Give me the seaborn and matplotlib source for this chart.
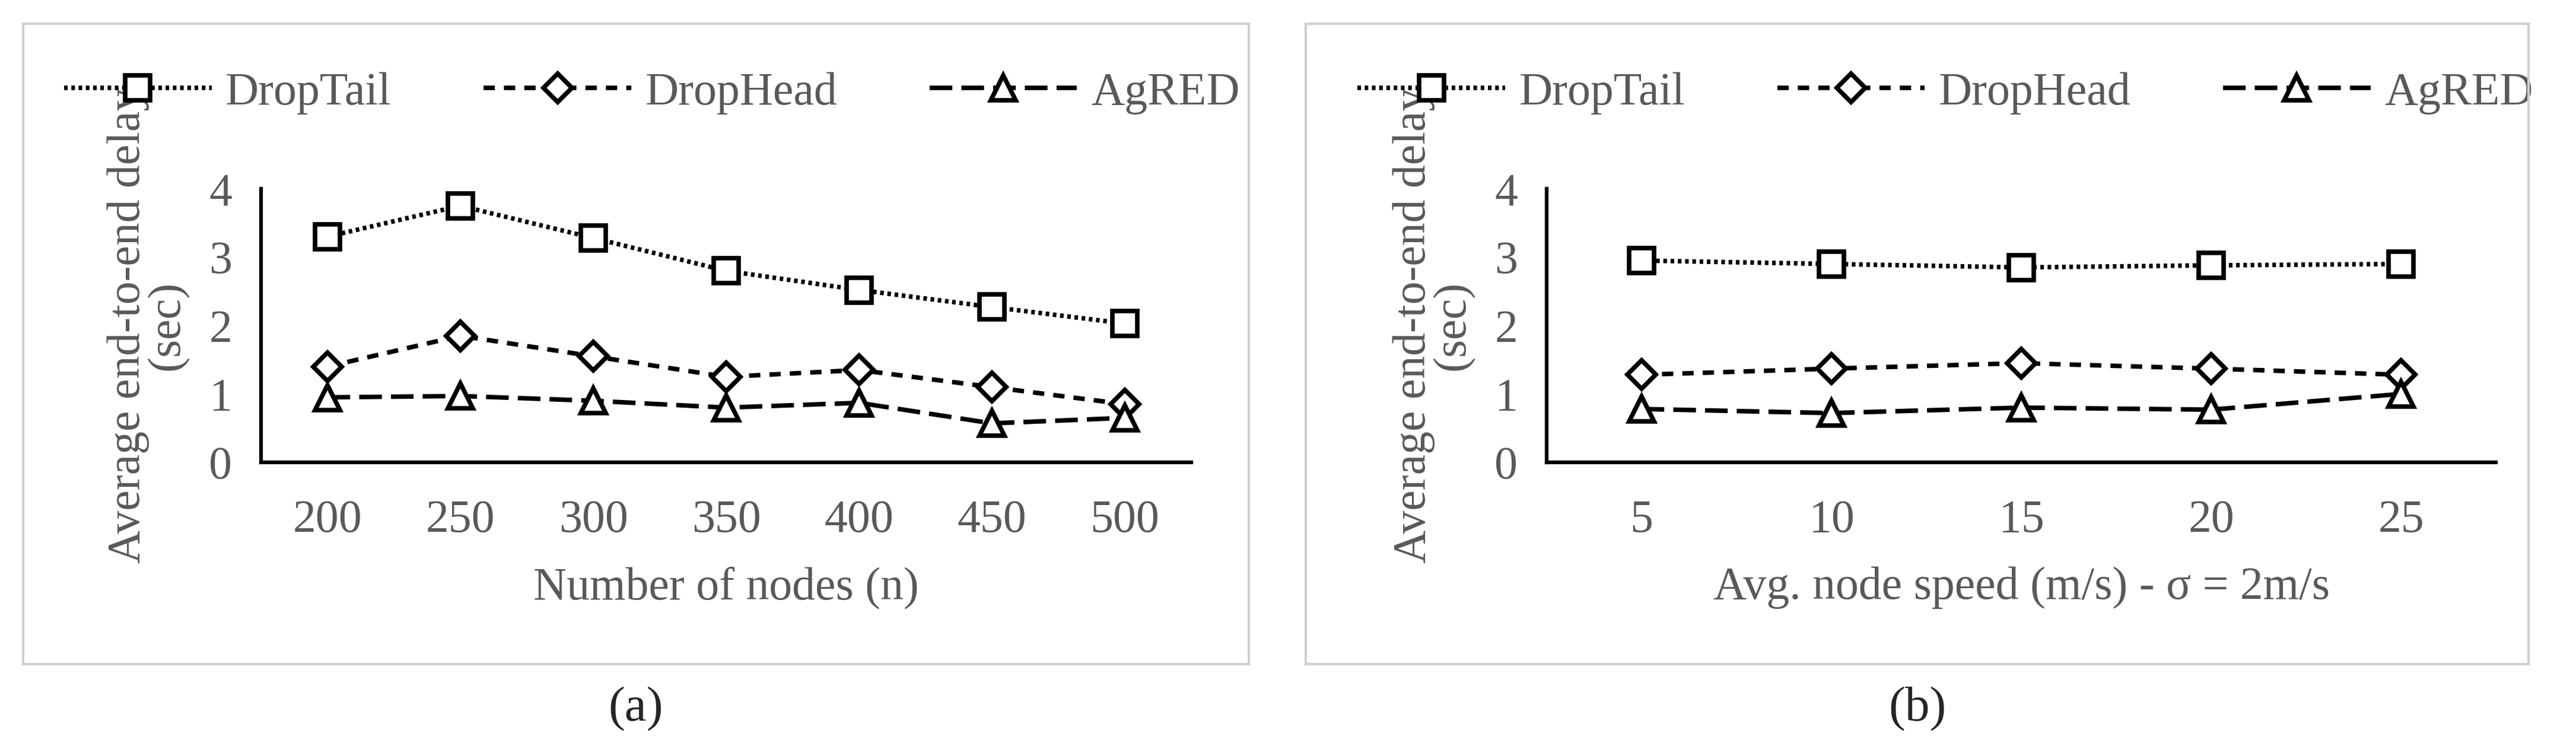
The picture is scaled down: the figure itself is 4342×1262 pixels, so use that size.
import matplotlib
matplotlib.use('Agg')
import matplotlib.pyplot as plt
from matplotlib.patches import Rectangle
import seaborn as sns
import pandas as pd

nodes = [200, 250, 300, 350, 400, 450, 500]
a_droptail = [3.30, 3.75, 3.28, 2.80, 2.52, 2.27, 2.03]
a_drophead = [1.40, 1.85, 1.55, 1.25, 1.35, 1.10, 0.85]
a_agred = [0.95, 0.97, 0.90, 0.80, 0.87, 0.57, 0.65]

speeds = [5, 10, 15, 20, 25]
b_droptail = [2.95, 2.90, 2.85, 2.88, 2.90]
b_drophead = [1.28, 1.37, 1.45, 1.37, 1.28]
b_agred = [0.78, 0.72, 0.80, 0.77, 1.00]

sns.set_style('white')
plt.rcParams['font.family'] = ['Liberation Serif', 'DejaVu Serif']
GREY = '#595959'

series_styles = [
    ('DropTail', 's', (0, (0.8, 0.8))),
    ('DropHead', 'D', (0, (2.5, 2))),
    ('AgRED', '^', (0, (5, 2))),
]

fig = plt.figure(figsize=(43.42, 12.62), dpi=100)
W, H = 4342, 1262


def panel(ax, xs, ys_list, xlabel):
    pos = list(range(len(xs)))
    for (name, marker, ls), ys in zip(series_styles, ys_list):
        df = pd.DataFrame({'x': pos, 'y': ys})
        ms = 24 if marker == 'D' else 30
        sns.lineplot(data=df, x='x', y='y', ax=ax, color='black', marker=marker,
                     markersize=ms, markerfacecolor='white', markeredgecolor='black',
                     markeredgewidth=5.5, linewidth=5.5, linestyle=ls, label=name)
    ax.set_xlim(-0.5, len(xs) - 0.5)
    ax.set_ylim(0, 4)
    ax.set_yticks([0, 1, 2, 3, 4])
    ax.set_xticks(pos)
    ax.set_xticklabels([str(v) for v in xs])
    for s in ['top', 'right']:
        ax.spines[s].set_visible(False)
    for s in ['left', 'bottom']:
        ax.spines[s].set_linewidth(4.5)
        ax.spines[s].set_color('black')
    ax.tick_params(axis='both', length=0, labelsize=56, labelcolor=GREY)
    ax.tick_params(axis='x', pad=45)
    ax.tick_params(axis='y', pad=35)
    ax.set_xlabel(xlabel, fontsize=56, color=GREY, labelpad=30)
    ax.set_ylabel('Average end-to-end delay\n(sec)', fontsize=56, color=GREY,
                  labelpad=25, linespacing=0.9)
    ax.legend(loc='lower center', bbox_to_anchor=(0.42, 1.12), ncol=3, frameon=False,
              fontsize=56, labelcolor=GREY, handlelength=3.2, columnspacing=2.0,
              handletextpad=0.3)


# panel frames
fig.patches.append(Rectangle((39 / W, 1 - 1119 / H), (2105 - 39) / W, (1119 - 40) / H,
                             transform=fig.transFigure, fill=False, edgecolor='#d0d0d0', linewidth=3))
fig.patches.append(Rectangle((2201 / W, 1 - 1119 / H), (4262 - 2201) / W, (1119 - 40) / H,
                             transform=fig.transFigure, fill=False, edgecolor='#d0d0d0', linewidth=3))

ax1 = fig.add_axes([440 / W, 1 - 779 / H, (2008 - 440) / W, (779 - 318) / H])
ax2 = fig.add_axes([2607 / W, 1 - 779 / H, (4207 - 2607) / W, (779 - 318) / H])

panel(ax1, nodes, [a_droptail, a_drophead, a_agred], 'Number of nodes (n)')
panel(ax2, speeds, [b_droptail, b_drophead, b_agred], 'Avg. node speed (m/s) - σ = 2m/s')

fig.text(1072 / W, 1 - 1195 / H, '(a)', ha='center', va='center', fontsize=60)
fig.text(3232 / W, 1 - 1195 / H, '(b)', ha='center', va='center', fontsize=60)

fig.savefig('out.png', dpi=100)
